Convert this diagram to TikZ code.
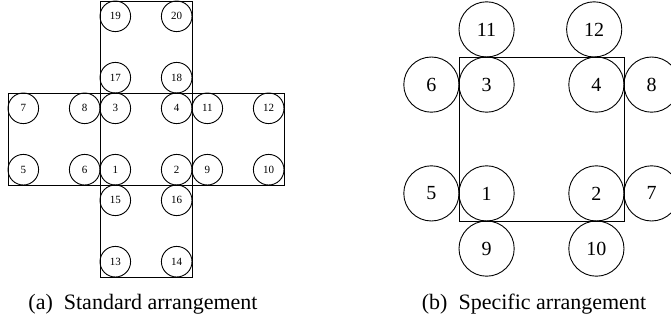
\documentclass[tikz,border=0pt]{standalone}
\usepackage{fontspec}
\setmainfont{Liberation Serif}
\begin{document}
\begin{tikzpicture}[x=0.5pt,y=-0.5pt,line width=0.45pt,
    smallcoin/.style={draw,circle,inner sep=0pt,minimum size=15.3pt,font=\fontsize{5.5}{6}\selectfont},
    bigcoin/.style={draw,circle,inner sep=0pt,minimum size=27.6pt,font=\fontsize{10}{12}\selectfont},
    caption/.style={anchor=base,font=\fontsize{11}{13}\selectfont}]
        \useasboundingbox (0,0) rectangle (671,322);
        %standard arrangement: five squares
        \foreach \x/\y in {100/1,8/93,100/93,192/93,100/185}
        \draw (\x,\y) rectangle +(92,92);
        \foreach \n/\x/\y in {19/115.3/16.3,20/176.7/16.3,17/115.3/77.7,18/176.7/77.7,
                              7/23.3/108.3,8/84.7/108.3,3/115.3/108.3,4/176.7/108.3,11/207.3/108.3,12/268.7/108.3,
                              5/23.3/169.7,6/84.7/169.7,1/115.3/169.7,2/176.7/169.7,9/207.3/169.7,10/268.7/169.7,
                              15/115.3/200.3,16/176.7/200.3,13/115.3/261.7,14/176.7/261.7}
        \node[smallcoin] (s\n) at (\x,\y) {\n};
        \node[caption] (capa) at (143,309) {(a)\enspace Standard arrangement};
    
        %specific arrangement
        \draw (459,57) rectangle (624,221);
        \foreach \n/\x/\y in {11/486.6/29.4,12/594.2/29.4,
                              6/431.4/84.6,3/486.6/84.6,4/596.4/84.6,8/651.6/84.6,
                              5/431.4/193.4,1/486.6/193.4,2/596.4/193.4,7/651.6/193.4,
                              9/486.6/248.6,10/596.4/248.6}
        \node[bigcoin] (p\n) at (\x,\y) {\n};
        \node[caption] (capb) at (534,309) {(b)\enspace Specific arrangement};
    \end{tikzpicture}
\end{document}
